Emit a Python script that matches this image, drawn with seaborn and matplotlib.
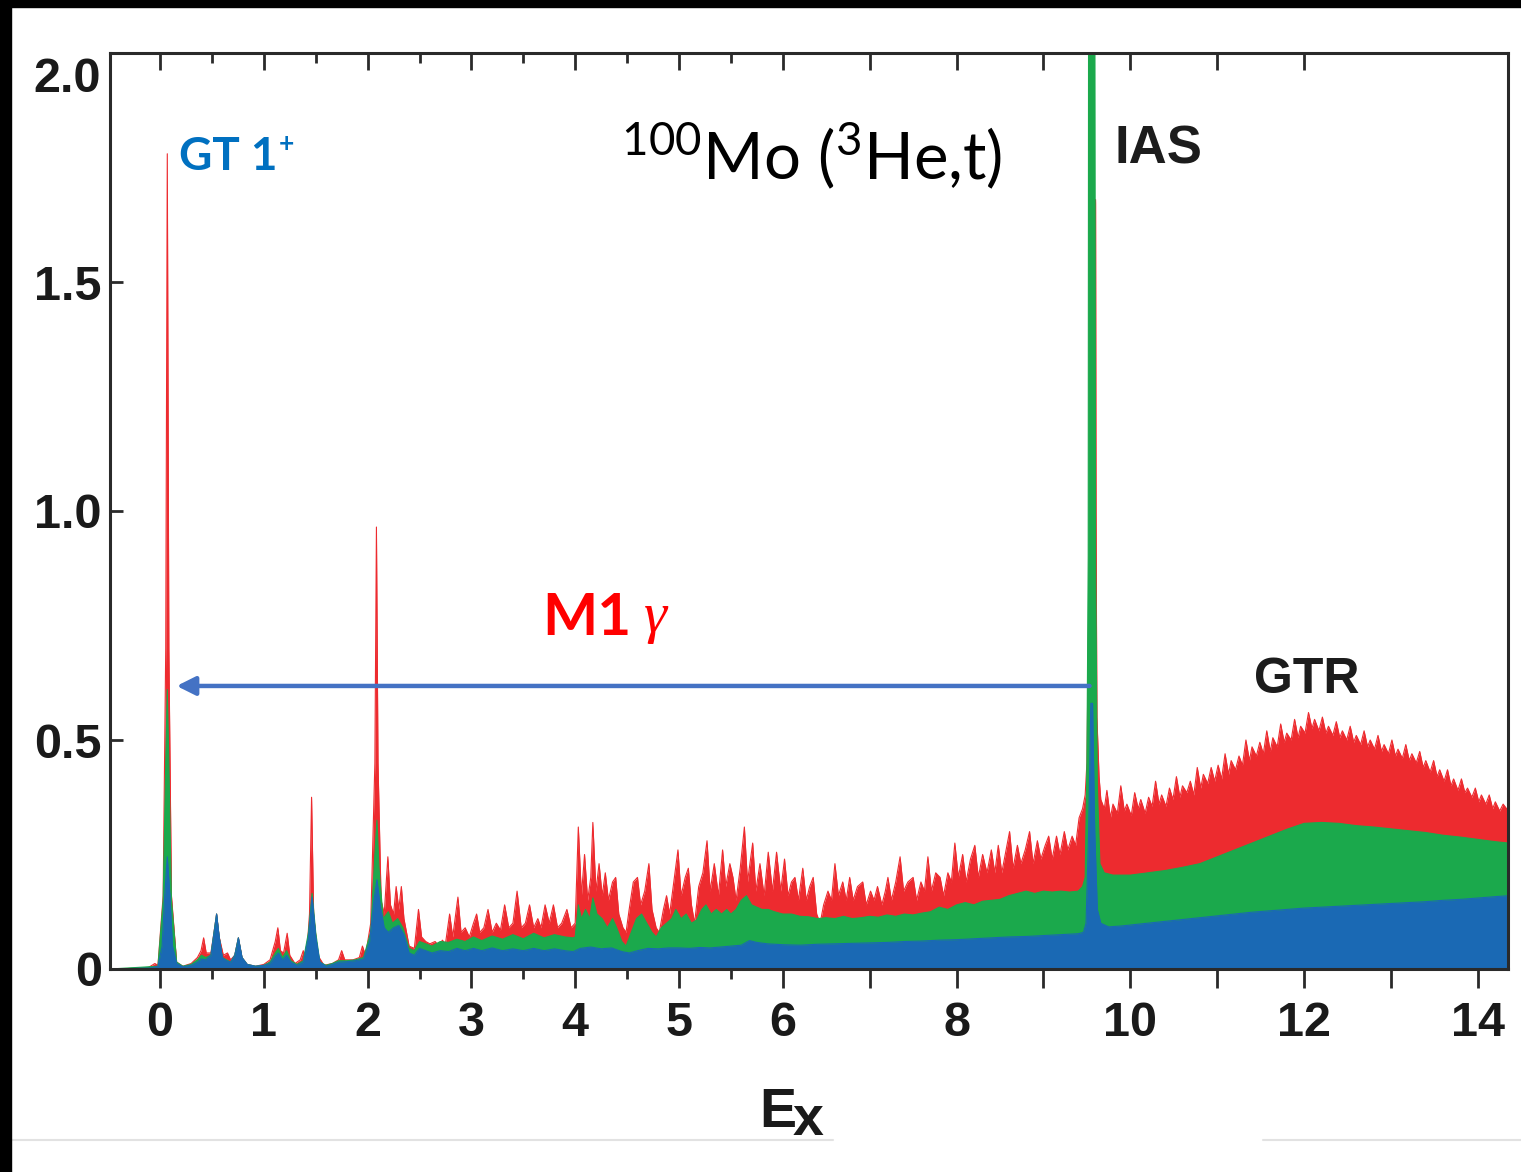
import numpy as np
import pandas as pd
import matplotlib
matplotlib.use("Agg")
import matplotlib.pyplot as plt
import seaborn as sns
from matplotlib.patches import Rectangle
from matplotlib.lines import Line2D

# ---------------------------------------------------------------------------
# Spectrum outlines (excitation energy in MeV, counts in arb. units)
# three angular cuts: red = total, green = middle cut, blue = forward cut
# ---------------------------------------------------------------------------
red_low = [(-0.48, 0.0), (-0.12, 0.002), (-0.05, 0.012), (-0.02, 0.008), (0.03, 0.16), (0.055, 0.7),
           (0.07, 1.78), (0.085, 0.7), (0.11, 0.16), (0.16, 0.015), (0.22, 0.006), (0.30, 0.012),
           (0.36, 0.025), (0.395, 0.04), (0.42, 0.068), (0.445, 0.035), (0.49, 0.035), (0.52, 0.08),
           (0.545, 0.12), (0.57, 0.07), (0.61, 0.03), (0.65, 0.035), (0.68, 0.02), (0.72, 0.03),
           (0.755, 0.068), (0.79, 0.025), (0.84, 0.01), (0.92, 0.006), (1.0, 0.01), (1.06, 0.02),
           (1.11, 0.06), (1.135, 0.09), (1.16, 0.04), (1.19, 0.035), (1.225, 0.078), (1.25, 0.03),
           (1.30, 0.012), (1.35, 0.02), (1.38, 0.04), (1.41, 0.02), (1.44, 0.12), (1.46, 0.375),
           (1.48, 0.12), (1.52, 0.03), (1.58, 0.008), (1.66, 0.012), (1.72, 0.02), (1.75, 0.04),
           (1.78, 0.02), (1.86, 0.02), (1.92, 0.025), (1.95, 0.05), (1.98, 0.03), (2.03, 0.1),
           (2.07, 0.45), (2.085, 0.965), (2.10, 0.45), (2.13, 0.15), (2.16, 0.12), (2.195, 0.245),
           (2.22, 0.14), (2.25, 0.12), (2.275, 0.18), (2.30, 0.13), (2.325, 0.18), (2.35, 0.11),
           (2.40, 0.05), (2.45, 0.045), (2.49, 0.13), (2.52, 0.07), (2.56, 0.06), (2.60, 0.055),
           (2.65, 0.06), (2.69, 0.05), (2.72, 0.063), (2.75, 0.055), (2.79, 0.12), (2.82, 0.07),
           (2.87, 0.157), (2.90, 0.08), (2.94, 0.09), (2.98, 0.07), (3.02, 0.1), (3.05, 0.12),
           (3.08, 0.08), (3.12, 0.09), (3.16, 0.13), (3.20, 0.08), (3.24, 0.1), (3.28, 0.085),
           (3.32, 0.14), (3.36, 0.09), (3.40, 0.1), (3.44, 0.17), (3.48, 0.09), (3.52, 0.1),
           (3.56, 0.14), (3.60, 0.09), (3.64, 0.11), (3.67, 0.09), (3.71, 0.14), (3.75, 0.1),
           (3.79, 0.14), (3.83, 0.09), (3.87, 0.1), (3.92, 0.13), (3.96, 0.09)]

red_mid = [(4.00, 0.1), (4.03, 0.31), (4.06, 0.16), (4.09, 0.25), (4.12, 0.15), (4.15, 0.2),
           (4.17, 0.32), (4.20, 0.17), (4.23, 0.23), (4.26, 0.16), (4.29, 0.21), (4.32, 0.15),
           (4.36, 0.19), (4.39, 0.2), (4.42, 0.12), (4.46, 0.09), (4.49, 0.08), (4.52, 0.13),
           (4.56, 0.19), (4.60, 0.2), (4.63, 0.14), (4.67, 0.17), (4.71, 0.23), (4.74, 0.13),
           (4.78, 0.09), (4.81, 0.08), (4.85, 0.13), (4.88, 0.16), (4.91, 0.12), (4.95, 0.19),
           (4.99, 0.26), (5.02, 0.16), (5.06, 0.2), (5.09, 0.22), (5.12, 0.14), (5.15, 0.1),
           (5.19, 0.18), (5.23, 0.21), (5.27, 0.28), (5.30, 0.17), (5.34, 0.23), (5.38, 0.16),
           (5.42, 0.26), (5.45, 0.18), (5.49, 0.23), (5.52, 0.2), (5.55, 0.15), (5.59, 0.22),
           (5.63, 0.31), (5.66, 0.19), (5.71, 0.275), (5.74, 0.17), (5.78, 0.23), (5.82, 0.16),
           (5.86, 0.255), (5.90, 0.17), (5.94, 0.255), (5.98, 0.17), (6.02, 0.24), (6.06, 0.16),
           (6.10, 0.19), (6.14, 0.2), (6.18, 0.15), (6.23, 0.22), (6.27, 0.15), (6.31, 0.18),
           (6.35, 0.2), (6.39, 0.12), (6.43, 0.1), (6.47, 0.14), (6.52, 0.17), (6.56, 0.15),
           (6.60, 0.23), (6.64, 0.16), (6.69, 0.19), (6.73, 0.15), (6.77, 0.2), (6.81, 0.15),
           (6.86, 0.18), (6.92, 0.19), (6.96, 0.14), (7.01, 0.17), (7.05, 0.15), (7.09, 0.18),
           (7.14, 0.14), (7.18, 0.17), (7.21, 0.2), (7.25, 0.15), (7.30, 0.19), (7.35, 0.245),
           (7.39, 0.17), (7.44, 0.19), (7.50, 0.2), (7.54, 0.15), (7.59, 0.19), (7.63, 0.17),
           (7.67, 0.245), (7.71, 0.17), (7.76, 0.21), (7.81, 0.2), (7.85, 0.16), (7.90, 0.21),
           (7.94, 0.19), (7.98, 0.275), (8.02, 0.2), (8.07, 0.25), (8.11, 0.19), (8.16, 0.24),
           (8.21, 0.27), (8.25, 0.2), (8.30, 0.25), (8.35, 0.21), (8.40, 0.26), (8.44, 0.21),
           (8.48, 0.27), (8.52, 0.21), (8.57, 0.26), (8.61, 0.3), (8.65, 0.22), (8.70, 0.27),
           (8.74, 0.23), (8.79, 0.26), (8.84, 0.3), (8.88, 0.23), (8.93, 0.28), (8.97, 0.24),
           (9.02, 0.27), (9.06, 0.29), (9.10, 0.24), (9.15, 0.29), (9.19, 0.25), (9.24, 0.3),
           (9.28, 0.26), (9.33, 0.29), (9.37, 0.27), (9.41, 0.33), (9.45, 0.35), (9.48, 0.38)]

red_high = [(9.50, 0.45), (9.54, 1.1), (9.57, 1.45), (9.60, 1.68), (9.605, 1.0), (9.615, 0.55),
            (9.64, 0.42), (9.66, 0.37), (9.70, 0.35), (9.73, 0.39), (9.77, 0.33), (9.80, 0.36),
            (9.85, 0.34), (9.89, 0.40), (9.93, 0.345), (9.96, 0.36), (10.01, 0.335), (10.05, 0.385),
            (10.09, 0.35), (10.12, 0.37), (10.17, 0.34), (10.21, 0.375), (10.25, 0.355), (10.29, 0.41),
            (10.33, 0.36), (10.36, 0.38), (10.41, 0.355), (10.45, 0.395), (10.49, 0.37), (10.53, 0.42),
            (10.57, 0.375), (10.60, 0.40), (10.65, 0.385), (10.69, 0.41), (10.73, 0.38), (10.77, 0.44),
            (10.81, 0.395), (10.84, 0.425), (10.89, 0.405), (10.93, 0.44), (10.97, 0.41), (11.01, 0.445),
            (11.05, 0.415), (11.09, 0.47), (11.13, 0.425), (11.16, 0.455), (11.21, 0.435), (11.25, 0.465),
            (11.29, 0.445), (11.33, 0.5), (11.37, 0.455), (11.40, 0.485), (11.45, 0.465), (11.49, 0.495),
            (11.53, 0.47), (11.57, 0.52), (11.61, 0.475), (11.64, 0.505), (11.69, 0.485), (11.73, 0.535),
            (11.77, 0.495), (11.80, 0.515), (11.85, 0.5), (11.89, 0.545), (11.93, 0.505), (11.96, 0.53),
            (12.01, 0.515), (12.05, 0.56), (12.09, 0.525), (12.12, 0.545), (12.17, 0.52), (12.21, 0.55),
            (12.25, 0.515), (12.28, 0.53), (12.33, 0.51), (12.37, 0.54), (12.41, 0.505), (12.44, 0.52),
            (12.49, 0.5), (12.53, 0.53), (12.57, 0.495), (12.60, 0.51), (12.65, 0.49), (12.69, 0.52),
            (12.73, 0.485), (12.76, 0.50), (12.81, 0.48), (12.85, 0.51), (12.89, 0.475), (12.92, 0.49),
            (12.97, 0.47), (13.01, 0.5), (13.05, 0.465), (13.08, 0.48), (13.13, 0.46), (13.17, 0.49),
            (13.21, 0.455), (13.24, 0.47), (13.29, 0.45), (13.33, 0.475), (13.37, 0.44), (13.40, 0.455),
            (13.45, 0.43), (13.49, 0.455), (13.53, 0.42), (13.56, 0.435), (13.61, 0.41), (13.65, 0.435),
            (13.69, 0.4), (13.72, 0.415), (13.77, 0.39), (13.81, 0.415), (13.85, 0.385), (13.88, 0.395),
            (13.93, 0.375), (13.97, 0.395), (14.01, 0.365), (14.04, 0.38), (14.09, 0.36), (14.13, 0.38),
            (14.17, 0.35), (14.20, 0.365), (14.25, 0.345), (14.29, 0.36), (14.35, 0.345)]

green_low = [(-0.48, 0.0), (-0.02, 0.006), (0.03, 0.15), (0.055, 0.45), (0.07, 0.61), (0.085, 0.45),
             (0.11, 0.15), (0.16, 0.015), (0.22, 0.006), (0.30, 0.01), (0.36, 0.02), (0.40, 0.03),
             (0.44, 0.025), (0.49, 0.03), (0.52, 0.08), (0.545, 0.12), (0.57, 0.07), (0.60, 0.025),
             (0.64, 0.02), (0.68, 0.015), (0.72, 0.03), (0.755, 0.068), (0.79, 0.025), (0.84, 0.01),
             (0.92, 0.006), (1.0, 0.008), (1.06, 0.015), (1.11, 0.035), (1.14, 0.045), (1.18, 0.025),
             (1.22, 0.04), (1.26, 0.018), (1.32, 0.01), (1.38, 0.018), (1.43, 0.08), (1.465, 0.165),
             (1.50, 0.08), (1.54, 0.015), (1.60, 0.008), (1.66, 0.012), (1.72, 0.018), (1.80, 0.018),
             (1.88, 0.02), (1.96, 0.025), (2.03, 0.08), (2.07, 0.25), (2.09, 0.325), (2.11, 0.22),
             (2.15, 0.11), (2.20, 0.125), (2.24, 0.1), (2.29, 0.11), (2.34, 0.09), (2.40, 0.045),
             (2.45, 0.04), (2.50, 0.06), (2.56, 0.055), (2.62, 0.05), (2.70, 0.06), (2.78, 0.058),
             (2.86, 0.065), (2.94, 0.06), (3.02, 0.07), (3.10, 0.062), (3.20, 0.072), (3.30, 0.065),
             (3.40, 0.075), (3.50, 0.066), (3.60, 0.078), (3.70, 0.068), (3.80, 0.075), (3.90, 0.07),
             (3.98, 0.068)]

green_mid = [(4.00, 0.07), (4.03, 0.14), (4.06, 0.11), (4.10, 0.13), (4.14, 0.11), (4.17, 0.155),
             (4.21, 0.12), (4.26, 0.11), (4.31, 0.09), (4.36, 0.11), (4.40, 0.09), (4.45, 0.06),
             (4.49, 0.05), (4.54, 0.08), (4.59, 0.11), (4.64, 0.12), (4.69, 0.1), (4.74, 0.08),
             (4.78, 0.07), (4.83, 0.09), (4.88, 0.1), (4.93, 0.11), (4.97, 0.13), (5.02, 0.11),
             (5.07, 0.12), (5.12, 0.1), (5.17, 0.107), (5.22, 0.13), (5.26, 0.14), (5.31, 0.12),
             (5.36, 0.13), (5.41, 0.12), (5.46, 0.13), (5.50, 0.12), (5.55, 0.13), (5.60, 0.15),
             (5.65, 0.16), (5.70, 0.14), (5.75, 0.135), (5.80, 0.13), (5.86, 0.13), (5.92, 0.125),
             (6.00, 0.12), (6.10, 0.12), (6.20, 0.115), (6.30, 0.114), (6.40, 0.11), (6.50, 0.112),
             (6.60, 0.11), (6.70, 0.115), (6.80, 0.11), (6.90, 0.112), (7.00, 0.115), (7.10, 0.113),
             (7.20, 0.118), (7.30, 0.115), (7.40, 0.12), (7.50, 0.118), (7.60, 0.122), (7.70, 0.125),
             (7.80, 0.135), (7.90, 0.13), (8.00, 0.14), (8.10, 0.145), (8.20, 0.14), (8.30, 0.148),
             (8.40, 0.15), (8.50, 0.152), (8.60, 0.16), (8.70, 0.165), (8.80, 0.17), (8.90, 0.165),
             (9.00, 0.17), (9.10, 0.168), (9.20, 0.17), (9.30, 0.168), (9.40, 0.17), (9.45, 0.18)]

green_high = [(9.48, 0.2), (9.50, 0.45), (9.515, 0.9), (9.52, 2.4), (9.525, 4.0), (9.555, 6.0),
              (9.585, 4.0), (9.59, 2.4), (9.60, 0.9), (9.62, 0.4), (9.65, 0.23), (9.70, 0.21),
              (9.80, 0.205), (9.90, 0.205), (10.0, 0.205), (10.2, 0.21), (10.4, 0.215), (10.6, 0.222),
              (10.8, 0.23), (11.0, 0.245), (11.2, 0.26), (11.4, 0.275), (11.6, 0.29), (11.8, 0.305),
              (12.0, 0.318), (12.2, 0.32), (12.4, 0.318), (12.6, 0.313), (12.8, 0.31), (13.0, 0.306),
              (13.2, 0.302), (13.4, 0.298), (13.6, 0.292), (13.8, 0.288), (14.0, 0.283), (14.2, 0.278),
              (14.35, 0.275)]

blue_low = [(-0.48, 0.0), (-0.10, 0.002), (-0.02, 0.006), (0.02, 0.05), (0.045, 0.16), (0.07, 0.245),
            (0.095, 0.16), (0.12, 0.05), (0.16, 0.012), (0.22, 0.005), (0.30, 0.008), (0.36, 0.015),
            (0.40, 0.022), (0.44, 0.02), (0.49, 0.03), (0.52, 0.08), (0.545, 0.12), (0.57, 0.07),
            (0.60, 0.025), (0.64, 0.018), (0.68, 0.015), (0.72, 0.03), (0.755, 0.068), (0.79, 0.025),
            (0.84, 0.01), (0.92, 0.006), (1.0, 0.008), (1.06, 0.012), (1.11, 0.028), (1.14, 0.035),
            (1.18, 0.02), (1.22, 0.03), (1.26, 0.015), (1.32, 0.008), (1.38, 0.015), (1.43, 0.07),
            (1.465, 0.157), (1.50, 0.07), (1.54, 0.015), (1.60, 0.006), (1.66, 0.01), (1.72, 0.015),
            (1.80, 0.016), (1.88, 0.018), (1.96, 0.022), (2.02, 0.06), (2.06, 0.15), (2.09, 0.195),
            (2.12, 0.14), (2.16, 0.09), (2.20, 0.08), (2.25, 0.09), (2.30, 0.095), (2.35, 0.075),
            (2.40, 0.035), (2.45, 0.03), (2.50, 0.045), (2.56, 0.04), (2.62, 0.035), (2.70, 0.04),
            (2.78, 0.038), (2.86, 0.045), (2.94, 0.04), (3.02, 0.045), (3.10, 0.04), (3.20, 0.046),
            (3.30, 0.04), (3.40, 0.044), (3.50, 0.04), (3.60, 0.045), (3.70, 0.04), (3.80, 0.044),
            (3.90, 0.04), (3.98, 0.038)]

blue_mid = [(4.00, 0.04), (4.05, 0.045), (4.15, 0.048), (4.25, 0.044), (4.35, 0.046), (4.45, 0.038),
            (4.52, 0.035), (4.60, 0.04), (4.70, 0.045), (4.80, 0.044), (4.90, 0.046), (5.00, 0.046),
            (5.10, 0.045), (5.20, 0.047), (5.30, 0.046), (5.40, 0.048), (5.50, 0.05), (5.60, 0.052),
            (5.68, 0.062), (5.75, 0.058), (5.85, 0.055), (6.00, 0.053), (6.20, 0.052), (6.40, 0.054),
            (6.60, 0.055), (6.80, 0.056), (7.00, 0.057), (7.20, 0.058), (7.40, 0.06), (7.60, 0.061),
            (7.80, 0.063), (8.00, 0.064), (8.20, 0.066), (8.40, 0.068), (8.60, 0.07), (8.80, 0.071),
            (9.00, 0.073), (9.20, 0.075), (9.40, 0.077), (9.46, 0.08)]

blue_high = [(9.49, 0.1), (9.52, 0.3), (9.545, 0.58), (9.565, 0.58), (9.59, 0.3), (9.62, 0.13),
             (9.66, 0.1), (9.75, 0.092), (9.90, 0.094), (10.0, 0.096), (10.2, 0.1), (10.4, 0.104),
             (10.6, 0.108), (10.8, 0.112), (11.0, 0.116), (11.2, 0.12), (11.4, 0.124), (11.6, 0.127),
             (11.8, 0.13), (12.0, 0.133), (12.2, 0.135), (12.4, 0.137), (12.6, 0.139), (12.8, 0.141),
             (13.0, 0.143), (13.2, 0.145), (13.4, 0.147), (13.6, 0.15), (13.8, 0.152), (14.0, 0.155),
             (14.2, 0.158), (14.35, 0.16)]

series_colors = {"red": "#ED2B2F", "green": "#1BA94C", "blue": "#1A69B4"}

y_ticks = [0, 0.5, 1.0, 1.5, 2.0]
y_ticklabels = ["0", "0.5", "1.0", "1.5", "2.0"]
x_major = [0, 1, 2, 3, 4, 5, 6, 7, 8, 9, 10, 11, 12, 13, 14]
x_labels = ["0", "1", "2", "3", "4", "5", "6", "", "8", "", "10", "", "12", "", "14"]
x_minor = [0.5, 1.5, 2.5, 3.5, 4.5, 5.5]
top_major = [0, 1, 2, 3, 4, 5, 6, 7, 8, 9, 10, 11, 12]

# M1 gamma transition from the IAS down to the GT 1+ ground state
arrow_from = (9.53, 0.618)
arrow_to = (0.16, 0.618)

# ---------------------------------------------------------------------------
frames = []
for name, parts in [("red", (red_low, red_mid, red_high)),
                    ("green", (green_low, green_mid, green_high)),
                    ("blue", (blue_low, blue_mid, blue_high))]:
    pts = [p for part in parts for p in part]
    frames.append(pd.DataFrame({"Ex": [p[0] for p in pts],
                                "counts": [p[1] for p in pts],
                                "cut": name}))
spec = pd.concat(frames, ignore_index=True)

sns.set_style("ticks")
plt.rcParams["font.family"] = ["Liberation Sans", "DejaVu Sans"]
plt.rcParams["mathtext.fontset"] = "custom"
plt.rcParams["mathtext.rm"] = "Lato"
plt.rcParams["mathtext.it"] = "Lato:italic"
plt.rcParams["mathtext.bf"] = "Lato:bold"

W, H = 1521, 1172
fig = plt.figure(figsize=(W / 100, H / 100), dpi=100)
fig.patch.set_facecolor("white")


def fx(px):
    return px / W


def fy(py):
    return 1 - py / H


ax = fig.add_axes([fx(110), fy(969), (1508 - 110) / W, (969 - 53) / H])

# compressed energy axis above 6 MeV
RATIO = 0.8372


def fwd(x):
    x = np.asarray(x, dtype=float)
    return np.where(x <= 6, x, 6 + (x - 6) * RATIO)


def inv(s):
    s = np.asarray(s, dtype=float)
    return np.where(s <= 6, s, 6 + (s - 6) / RATIO)


ax.set_xscale("function", functions=(fwd, inv))
XLIM = (-0.482, 14.346)

for z, name in enumerate(["red", "green", "blue"]):
    d = spec[spec["cut"] == name]
    ax.fill_between(d["Ex"].to_numpy(), 0, d["counts"].to_numpy(),
                    color=series_colors[name], lw=0, zorder=1 + z)
    sns.lineplot(data=d, x="Ex", y="counts", color=series_colors[name], lw=0.8,
                 estimator=None, sort=False, ax=ax, zorder=1.5 + z, legend=False)

ax.set_xlim(*XLIM)
ax.set_ylim(0, 2.0)
ax.set_xlabel("")
ax.set_ylabel("")

spine_c = "#2a2a2a"
for s in ax.spines.values():
    s.set_color(spine_c)
    s.set_linewidth(2.2)
    s.set_zorder(10)

lab_font = dict(family="Liberation Sans", weight="bold", size=35, color="#1a1a1a")

ax.set_yticks(y_ticks)
ax.set_yticklabels(y_ticklabels[:-1] + [""], **lab_font)
ax.tick_params(axis="y", direction="in", length=9, width=2, color=spine_c, pad=6)
ax.annotate(y_ticklabels[-1], xy=(0, y_ticks[-1]), xycoords=("axes fraction", "data"),
            xytext=(-9, -27), textcoords="offset pixels", ha="right", va="center", **lab_font)

ax.set_xticks(x_major)
ax.set_xticklabels(x_labels, **lab_font)
ax.set_xticks(x_minor, minor=True)
ax.tick_params(axis="x", which="major", direction="out", length=14, width=2,
               color=spine_c, pad=9, top=False)
ax.tick_params(axis="x", which="minor", direction="out", length=7, width=2,
               color=spine_c, top=False)

# inward ticks along the top frame
ax_top = ax.twiny()
ax_top.set_xscale("function", functions=(fwd, inv))
ax_top.set_xlim(*XLIM)
ax_top.set_xticks(top_major)
ax_top.set_xticks(x_minor, minor=True)
ax_top.tick_params(axis="x", which="major", direction="in", length=12, width=2,
                   color=spine_c, labeltop=False, top=True, bottom=False)
ax_top.tick_params(axis="x", which="minor", direction="in", length=7, width=2,
                   color=spine_c, top=True, bottom=False)
for s in ax_top.spines.values():
    s.set_visible(False)

# arrow and annotations
ax.annotate("", xy=arrow_to, xytext=arrow_from,
            arrowprops=dict(arrowstyle="-|>", color="#4472C4", lw=3.2,
                            mutation_scale=28, shrinkA=0, shrinkB=0), zorder=8)

fig.text(fx(179), fy(170), "GT 1", family="Lato", weight="bold", size=33,
         color="#0070C0", va="baseline", ha="left")
fig.text(fx(279), fy(152), "+", family="Lato", weight="bold", size=19,
         color="#0070C0", va="baseline", ha="left")

fig.text(fx(621), fy(179), r"$^{100}$Mo ($^{3}$He,t)", family="Lato", size=47,
         color="black", va="baseline", ha="left")

fig.text(fx(1114), fy(163), "IAS", weight="bold", size=38, color="#1c1c1c",
         va="baseline", ha="left")
fig.text(fx(1254), fy(693), "GTR", weight="bold", size=36, color="#1c1c1c",
         va="baseline", ha="left")

fig.text(fx(542), fy(635), "M1", family="Lato", weight="bold", size=42,
         color="#FF0000", va="baseline", ha="left")
fig.text(fx(644), fy(632), "γ", family="Liberation Serif", style="italic", size=42,
         color="#FF0000", va="baseline", ha="left")

fig.text(fx(759), fy(1127), "E", weight="bold", size=40, color="#1a1a1a",
         va="baseline", ha="left")
fig.text(fx(793), fy(1135), "x", weight="bold", size=40, color="#1a1a1a",
         va="baseline", ha="left")

# page frame
fig.patches.append(Rectangle((0, fy(7)), 1, 7 / H, transform=fig.transFigure,
                             color="black", zorder=20))
fig.patches.append(Rectangle((0, 0), 11 / W, 1, transform=fig.transFigure,
                             color="black", zorder=20))
fig.lines.append(Line2D([fx(11), fx(833)], [fy(1140), fy(1140)], transform=fig.transFigure,
                        color="#e2e2e2", lw=1.5))
fig.lines.append(Line2D([fx(1263), 1], [fy(1140), fy(1140)], transform=fig.transFigure,
                        color="#e2e2e2", lw=1.5))

fig.savefig("out.png", dpi=100, facecolor="white")
